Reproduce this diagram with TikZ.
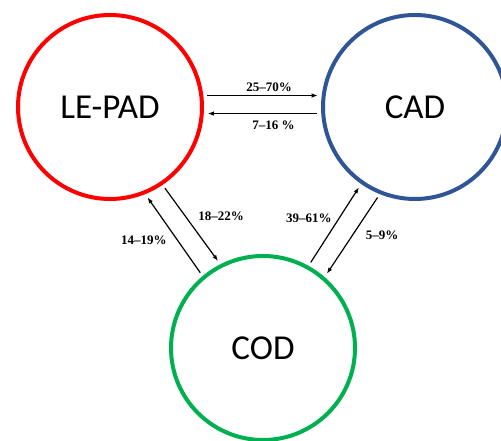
\documentclass[tikz,border=0pt]{standalone}
\usepackage{fontspec}
\setmainfont{Liberation Serif}
\newfontfamily\labelfont{Carlito}
\usetikzlibrary{positioning,arrows.meta}
\definecolor{PadRed}{RGB}{255,0,0}
\definecolor{CadBlue}{RGB}{47,85,151}
\definecolor{CodGreen}{RGB}{0,176,80}
\tikzset{
  groupcircle/.style={circle,line width=4pt,minimum size=184pt,inner sep=0pt,
    font=\labelfont\fontsize{35}{40}\selectfont},
  flow/.style={-{Latex[length=6pt,width=4.5pt]},line width=1.2pt,
    shorten <=4pt,shorten >=4pt},
  pct/.style={font=\fontsize{13}{15}\selectfont\bfseries,inner sep=1pt}
}

\begin{document}
\begin{tikzpicture}[x=1pt,y=1pt]
  \useasboundingbox (0,0) rectangle (501,441);
  \node[groupcircle,draw=PadRed] (lepad) at (110,334) {LE-PAD};
  \node[groupcircle,draw=CadBlue] (cad) at (415,334) {CAD};
  \node[groupcircle,draw=CodGreen] (cod) at (263,93) {COD};
  % LE-PAD <-> CAD
  \draw[flow] (lepad.7) -- node[pct,above=2pt,xshift=6.5pt] {25--70\%} (cad.173);
  \draw[flow] (cad.184) -- node[pct,below=6pt,xshift=11pt] {7--16 \%} (lepad.-4);
  % LE-PAD <-> COD
  \draw[flow] (lepad.-56) -- node[pct,pos=.4,right=11pt] {18--22\%} (cod.117);
  \draw[flow] (cod.130) -- node[pct,pos=.44,left=9pt] {14--19\%} (lepad.-68);
  % CAD <-> COD
  \draw[flow] (cod.61) -- node[pct,pos=.585,left=6pt] {39--61\%} (cad.-125);
  \draw[flow] (cad.-112) -- node[pct,pos=.5,right=12pt] {5--9\%} (cod.49);
\end{tikzpicture}
\end{document}
